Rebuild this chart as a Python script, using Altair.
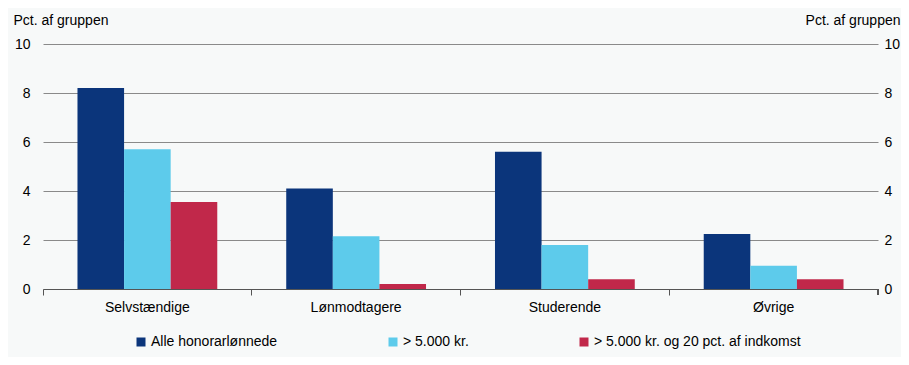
import altair as alt
import pandas as pd

categories = ["Selvstændige", "Lønmodtagere", "Studerende", "Øvrige"]
series = ["Alle honorarlønnede", "> 5.000 kr.", "> 5.000 kr. og 20 pct. af indkomst"]
alle = [8.2, 4.1, 5.6, 2.25]
over5000 = [5.7, 2.15, 1.8, 0.95]
over5000_20 = [3.55, 0.2, 0.4, 0.4]
colors = ["#0b357b", "#5dcbeb", "#c1284a"]
y_ticks = [0, 2, 4, 6, 8, 10]
y_title = "Pct. af gruppen"

rows = []
for i, c in enumerate(categories):
    for s, vals in zip(series, [alle, over5000, over5000_20]):
        rows.append({"kategori": c, "serie": s, "vaerdi": vals[i]})
df = pd.DataFrame(rows)

FONT = "Liberation Sans"
FS = 14
W, H = 835, 245

ydom = alt.Scale(domain=[0, 10], nice=False)

bars = alt.Chart(df).mark_bar().encode(
    x=alt.X("kategori:N", sort=categories, title=None,
            scale=alt.Scale(paddingInner=0, paddingOuter=0),
            axis=alt.Axis(labelAngle=0, bandPosition=0, tickSize=6, ticks=True,
                          domainColor="#555555", tickColor="#555555",
                          labelPadding=5, labelFontSize=FS, labelColor="#000000",
                          labelFont=FONT, grid=False)),
    xOffset=alt.XOffset("serie:N", sort=series,
                        scale=alt.Scale(paddingOuter=0.74, paddingInner=0)),
    y=alt.Y("vaerdi:Q", scale=ydom, title=y_title,
            axis=alt.Axis(values=y_ticks, orient="left", grid=True, gridColor="#8a8a8a",
                          domain=False, ticks=False, labelPadding=13,
                          labelFontSize=FS, labelColor="#000000", labelFont=FONT,
                          titleAngle=0, titleAlign="left", titleBaseline="alphabetic",
                          titleX=-30, titleY=-20, titleFont=FONT, titleFontSize=FS,
                          titleFontWeight="normal", titleColor="#000000")),
    color=alt.Color("serie:N", sort=series,
                    scale=alt.Scale(domain=series, range=colors),
                    legend=alt.Legend(title=None, orient="none", direction="horizontal",
                                      legendX=91, legendY=291, symbolType="square",
                                      symbolSize=81, symbolStrokeWidth=0,
                                      labelFontSize=FS, labelFont=FONT, labelColor="#000000",
                                      labelLimit=400, columnPadding=108, labelOffset=3)),
)

right_axis = alt.Chart(df).mark_point(opacity=0).encode(
    y=alt.Y("vaerdi:Q", scale=ydom, title=y_title,
            axis=alt.Axis(values=y_ticks, orient="right", grid=False,
                          domain=False, ticks=False, labelPadding=6,
                          labelFontSize=FS, labelColor="#000000", labelFont=FONT,
                          titleAngle=0, titleAlign="right", titleBaseline="alphabetic",
                          titleX=22, titleY=-20, titleFont=FONT, titleFontSize=FS,
                          titleFontWeight="normal", titleColor="#000000")),
)

end_tick = alt.Chart(df).mark_rule(color="#555555").encode(
    x=alt.value(W), y=alt.value(H), y2=alt.value(H + 6)
)

chart = alt.layer(bars, right_axis, end_tick).resolve_scale(y="independent").properties(
    width=W, height=H,
    autosize=alt.AutoSizeParams(type="none"),
    padding={"left": 35, "top": 36, "right": 23, "bottom": 68},
    background="#f7f9f9",
).configure_view(stroke=None)

chart.save("out.html", embed_options={"renderer": "svg", "actions": False})
